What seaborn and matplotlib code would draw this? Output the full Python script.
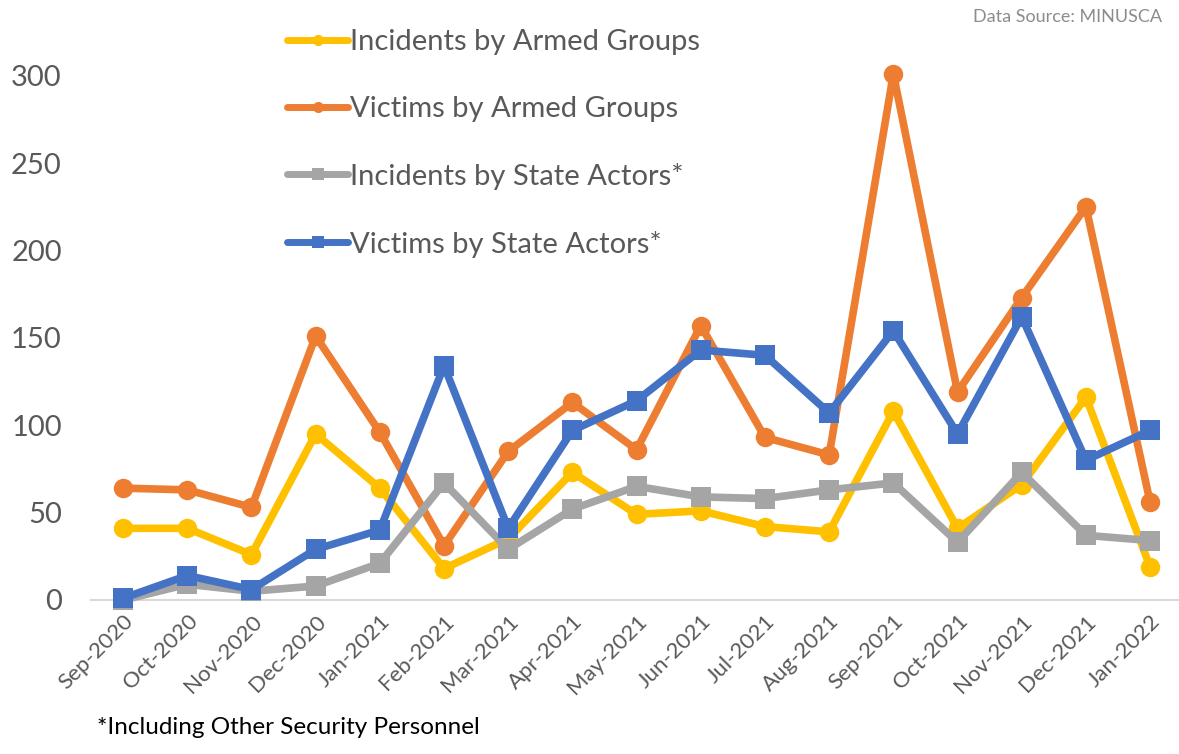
import matplotlib
matplotlib.use("Agg")
import matplotlib.pyplot as plt
import seaborn as sns

sns.set_style("white")
plt.rcParams["font.family"] = ["Lato", "DejaVu Sans"]

months = ["Sep-2020", "Oct-2020", "Nov-2020", "Dec-2020", "Jan-2021", "Feb-2021",
          "Mar-2021", "Apr-2021", "May-2021", "Jun-2021", "Jul-2021", "Aug-2021",
          "Sep-2021", "Oct-2021", "Nov-2021", "Dec-2021", "Jan-2022"]

incidents_armed = [41, 41, 26, 95, 64, 18, 35, 73, 49, 51, 42, 39, 108, 41, 66, 116, 19]
victims_armed = [64, 63, 53, 151, 96, 31, 85, 113, 86, 157, 93, 83, 301, 119, 173, 225, 56]
incidents_state = [0, 9, 5, 8, 21, 67, 29, 52, 65, 59, 58, 63, 67, 33, 73, 37, 34]
victims_state = [1, 14, 6, 29, 40, 134, 41, 97, 114, 143, 140, 107, 154, 95, 162, 80, 97]

series = [
    ("Incidents by Armed Groups", incidents_armed, "#FFC000", "o"),
    ("Victims by Armed Groups", victims_armed, "#ED7D31", "o"),
    ("Incidents by State Actors*", incidents_state, "#A5A5A5", "s"),
    ("Victims by State Actors*", victims_state, "#4472C4", "s"),
]

text_col = "#595959"

fig = plt.figure(figsize=(11.79, 7.54), dpi=100)
ax = fig.add_axes([91 / 1179, 1 - 600 / 754, 1 - 91 / 1179, 600 / 754])

for label, vals, color, marker in series:
    sns.lineplot(x=months, y=vals, ax=ax, color=color, marker=marker, sort=False,
                 linewidth=5.5, markersize=14 if marker == "o" else 15,
                 markeredgewidth=0, label=label, clip_on=False)

ax.set_xlim(-0.5, 16.45)
ax.set_ylim(0, 600 / 1.748)
ax.set_yticks(range(0, 301, 50))
ax.tick_params(axis="y", labelsize=21, labelcolor=text_col, length=0, pad=21)
ax.tick_params(axis="x", labelsize=16, labelcolor=text_col, length=0, pad=8)
for t in ax.get_xticklabels():
    t.set_rotation(45)
    t.set_ha("right")
    t.set_rotation_mode("anchor")

for s in ["top", "right", "left"]:
    ax.spines[s].set_visible(False)
ax.spines["bottom"].set_color("#D9D9D9")
ax.spines["bottom"].set_linewidth(1.5)
ax.spines["bottom"].set_zorder(0)
ax.set_xlabel("")
ax.set_ylabel("")

ax.get_legend().remove()
handles, labels = ax.get_legend_handles_labels()
leg = fig.legend(handles, labels, loc="upper left", bbox_to_anchor=(287 / 1179, 1 - 29 / 754),
                 frameon=False, fontsize=21, handlelength=2.1, handletextpad=0.05,
                 labelspacing=1.4, borderpad=0, borderaxespad=0)
for h in leg.legend_handles:
    h.set_markersize(8)
    h.set_linewidth(5)
for t in leg.get_texts():
    t.set_color(text_col)

fig.text(1162 / 1179, 1 - 17 / 754, "Data Source: MINUSCA", ha="right", va="center",
         fontsize=13, color="#8C8C8C")
fig.text(97 / 1179, 1 - 728 / 754, "*Including Other Security Personnel", ha="left",
         va="center", fontsize=17.5, color="black")

fig.savefig("out.png", dpi=100)
